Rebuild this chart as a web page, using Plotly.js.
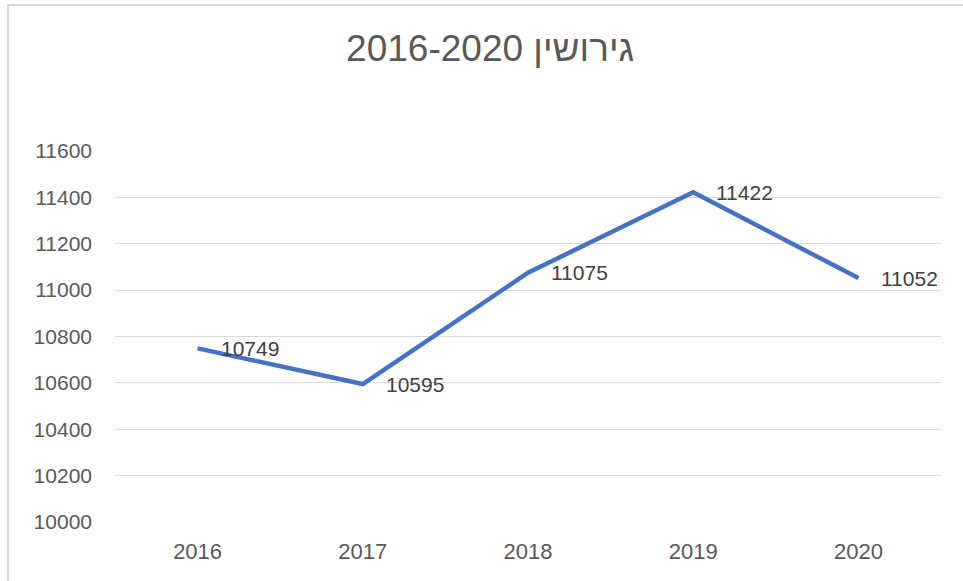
<!DOCTYPE html>
<html>
<head>
<meta charset="utf-8">
<script src="https://cdn.plot.ly/plotly-3.0.1.min.js"></script>
<style>
  html, body { margin: 0; padding: 0; background: #ffffff; overflow: hidden; }
  #frame { position: absolute; left: 7px; top: 4px; width: 1000px; height: 700px; border: 2px solid #d9d9d9; box-sizing: border-box; }
  #chart { position: absolute; left: 0; top: 0; width: 963px; height: 581px; }
</style>
</head>
<body>
<div id="frame"></div>
<div id="chart"></div>
<script>
const years = ['2016', '2017', '2018', '2019', '2020'];
const divorces = [10749, 10595, 11075, 11422, 11052];
const yTicks = [10000, 10200, 10400, 10600, 10800, 11000, 11200, 11400, 11600];
const chartTitle = '2016-2020 גירושין';

const font = 'Liberation Sans, Arial, sans-serif';

const trace = {
  x: years,
  y: divorces,
  type: 'scatter',
  mode: 'lines',
  line: { color: '#4472C4', width: 4.5 },
  hoverinfo: 'x+y'
};

const annotations = divorces.map((v, i) => ({
  xref: 'x',
  yref: 'y',
  x: i,
  y: v,
  text: String(v),
  showarrow: false,
  xanchor: 'left',
  yanchor: 'middle',
  xshift: 21,
  font: { family: font, size: 21, color: '#404040' }
}));

const layout = {
  width: 963,
  height: 581,
  margin: { l: 115, r: 22, t: 151, b: 59 },
  paper_bgcolor: 'rgba(0,0,0,0)',
  plot_bgcolor: 'rgba(0,0,0,0)',
  showlegend: false,
  title: {
    text: chartTitle,
    x: 0.509,
    xanchor: 'center',
    y: 0.917,
    yanchor: 'middle',
    font: { family: font, size: 37, color: '#595959' }
  },
  xaxis: {
    type: 'category',
    range: [-0.5, 4.5],
    showgrid: false,
    showline: false,
    zeroline: false,
    ticks: '',
    ticklabelstandoff: 14,
    tickfont: { family: font, size: 22, color: '#595959' }
  },
  yaxis: {
    range: [10000, 11600],
    tickvals: yTicks,
    ticktext: yTicks.map(String),
    showgrid: true,
    gridcolor: '#d9d9d9',
    gridwidth: 1,
    zeroline: false,
    showline: false,
    ticks: '',
    ticklabelstandoff: 22,
    tickfont: { family: font, size: 21, color: '#595959' }
  },
  annotations: annotations
};

Plotly.newPlot('chart', [trace], layout, { displayModeBar: false });
</script>
</body>
</html>
